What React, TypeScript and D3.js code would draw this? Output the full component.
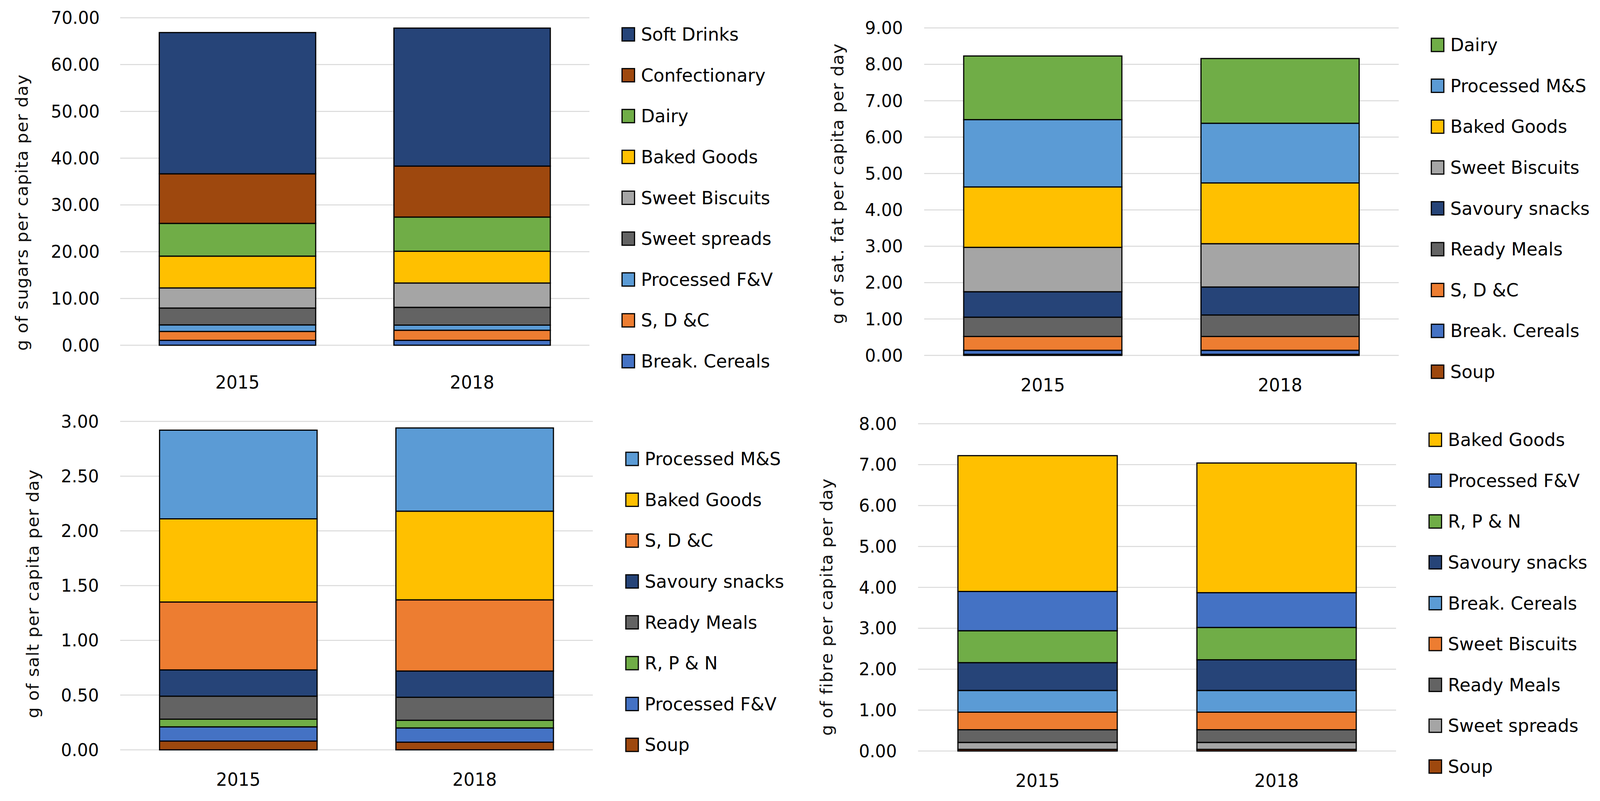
import * as d3 from "d3";

// data (stack order: bottom -> top)
const years = ["2015", "2018"];

const sugarCats = ["Break. Cereals", "S, D &C", "Processed F&V", "Sweet spreads", "Sweet Biscuits", "Baked Goods", "Dairy", "Confectionary", "Soft Drinks"];
const sugar2015 = [1.05, 1.9, 1.4, 3.6, 4.3, 6.8, 7.0, 10.6, 30.2];
const sugar2018 = [1.05, 2.15, 1.1, 3.8, 5.2, 6.8, 7.3, 10.9, 29.5];
const sugarColors = ["#4472C4", "#ED7D31", "#5B9BD5", "#636363", "#A5A5A5", "#FFC000", "#70AD47", "#9E480E", "#264478"];

const fatCats = ["Soup", "Break. Cereals", "S, D &C", "Ready Meals", "Savoury snacks", "Sweet Biscuits", "Baked Goods", "Processed M&S", "Dairy"];
const fat2015 = [0.03, 0.11, 0.38, 0.53, 0.7, 1.22, 1.66, 1.85, 1.75];
const fat2018 = [0.03, 0.11, 0.38, 0.59, 0.77, 1.19, 1.67, 1.64, 1.78];
const fatColors = ["#9E480E", "#4472C4", "#ED7D31", "#636363", "#264478", "#A5A5A5", "#FFC000", "#5B9BD5", "#70AD47"];

const saltCats = ["Soup", "Processed F&V", "R, P & N", "Ready Meals", "Savoury snacks", "S, D &C", "Baked Goods", "Processed M&S"];
const salt2015 = [0.08, 0.13, 0.07, 0.21, 0.24, 0.62, 0.76, 0.81];
const salt2018 = [0.07, 0.13, 0.07, 0.21, 0.24, 0.65, 0.81, 0.76];
const saltColors = ["#9E480E", "#4472C4", "#70AD47", "#636363", "#264478", "#ED7D31", "#FFC000", "#5B9BD5"];

const fibreCats = ["Soup", "Sweet spreads", "Ready Meals", "Sweet Biscuits", "Break. Cereals", "Savoury snacks", "R, P & N", "Processed F&V", "Baked Goods"];
const fibre2015 = [0.04, 0.17, 0.31, 0.43, 0.53, 0.68, 0.78, 0.96, 3.32];
const fibre2018 = [0.04, 0.17, 0.31, 0.43, 0.53, 0.75, 0.79, 0.85, 3.17];
const fibreColors = ["#9E480E", "#A5A5A5", "#636363", "#ED7D31", "#5B9BD5", "#264478", "#70AD47", "#4472C4", "#FFC000"];

const FONT = "'DejaVu Sans', Verdana, sans-serif";
const W = 4221;
const H = 2051;

type PanelProps = {
  title: string;
  cats: string[];
  values: number[][];
  colors: string[];
  max: number;
  step: number;
  x0: number;
  x1: number;
  yTop: number;
  yBot: number;
  tickX: number;
  legX: number;
  legY: number;
  titleX: number;
  titleY: number;
  yearY: number;
};

function Panel(p: PanelProps) {
  const rows = years.map((yr, i) => {
    const r: Record<string, any> = { year: yr };
    p.cats.forEach((c, j) => (r[c] = p.values[i][j]));
    return r;
  });
  const series = d3.stack().keys(p.cats)(rows as any);

  const x = d3.scaleBand().domain(years).range([p.x0, p.x1]).paddingInner(1 / 3).paddingOuter(1 / 6);
  const y = d3.scaleLinear().domain([0, p.max]).range([p.yBot, p.yTop]);
  const ticks = d3.range(0, p.max + p.step / 2, p.step);
  const legendItems = p.cats.map((c, i) => ({ c, color: p.colors[i] })).reverse();
  const legStep = 104.6;

  return (
    <g>
      {/* grid */}
      {ticks.map((t) => (
        <line key={t} x1={p.x0} x2={p.x1} y1={y(t)} y2={y(t)} stroke="#D9D9D9" strokeWidth={2.5} />
      ))}
      {ticks.map((t) => (
        <text key={"t" + t} x={p.tickX} y={y(t)} textAnchor="end" dominantBaseline="central" fontFamily={FONT} fontSize={45} fill="#000">
          {t.toFixed(2)}
        </text>
      ))}

      {/* bars */}
      {series.map((s, i) => (
        <g key={s.key}>
          {s.map((d: any) => (
            <rect
              key={d.data.year}
              x={x(d.data.year)}
              y={y(d[1])}
              width={x.bandwidth()}
              height={Math.max(0, y(d[0]) - y(d[1]))}
              fill={p.colors[i]}
              stroke="#000"
              strokeWidth={3}
            />
          ))}
        </g>
      ))}

      {/* year labels */}
      {years.map((yr) => (
        <text key={yr} x={(x(yr) ?? 0) + x.bandwidth() / 2} y={p.yearY} textAnchor="middle" dominantBaseline="central" fontFamily={FONT} fontSize={46} fill="#000">
          {yr}
        </text>
      ))}

      {/* axis title */}
      <text
        transform={`translate(${p.titleX},${p.titleY}) rotate(-90)`}
        textAnchor="middle"
        dominantBaseline="central"
        fontFamily={FONT}
        fontSize={44}
        letterSpacing={1.5}
        fill="#111"
      >
        {p.title}
      </text>

      {/* legend */}
      {legendItems.map((it, i) => (
        <g key={it.c} transform={`translate(${p.legX},${p.legY + i * legStep})`}>
          <rect x={0} y={-17} width={33} height={34} fill={it.color} stroke="#000" strokeWidth={3} />
          <text x={50} y={0} dominantBaseline="central" fontFamily={FONT} fontSize={47} fill="#000">
            {it.c}
          </text>
        </g>
      ))}
    </g>
  );
}

export default function App() {
  return (
    <>
      <style>{"html,body{margin:0;padding:0;overflow:hidden;background:#fff}"}</style>
      <svg
        viewBox={`0 0 ${W} ${H}`}
        preserveAspectRatio="none"
        style={{ display: "block", width: "100vw", height: "100vh", background: "#fff" }}
      >
        <rect width={W} height={H} fill="#fff" />
        <Panel
          title="g of sugars per capita per day"
          cats={sugarCats}
          values={[sugar2015, sugar2018]}
          colors={sugarColors}
          max={70}
          step={10}
          x0={317}
          x1={1555}
          yTop={45.6}
          yBot={884}
          tickX={263}
          legX={1641}
          legY={88}
          titleX={58}
          titleY={544}
          yearY={979}
        />
        <Panel
          title="g of sat. fat per capita per day"
          cats={fatCats}
          values={[fat2015, fat2018]}
          colors={fatColors}
          max={9}
          step={1}
          x0={2438}
          x1={3690}
          yTop={71.6}
          yBot={910}
          tickX={2382}
          legX={3776}
          legY={115}
          titleX={2210}
          titleY={470}
          yearY={986}
        />
        <Panel
          title="g of salt per capita per day"
          cats={saltCats}
          values={[salt2015, salt2018]}
          colors={saltColors}
          max={3}
          step={0.5}
          x0={317}
          x1={1564}
          yTop={1079}
          yBot={1920}
          tickX={261}
          legX={1651}
          legY={1175}
          titleX={87}
          titleY={1520}
          yearY={1996}
        />
        <Panel
          title="g of fibre per capita per day"
          cats={fibreCats}
          values={[fibre2015, fibre2018]}
          colors={fibreColors}
          max={8}
          step={1}
          x0={2422}
          x1={3683}
          yTop={1085}
          yBot={1923}
          tickX={2366}
          legX={3770}
          legY={1126}
          titleX={2181}
          titleY={1554}
          yearY={1999}
        />
      </svg>
    </>
  );
}
